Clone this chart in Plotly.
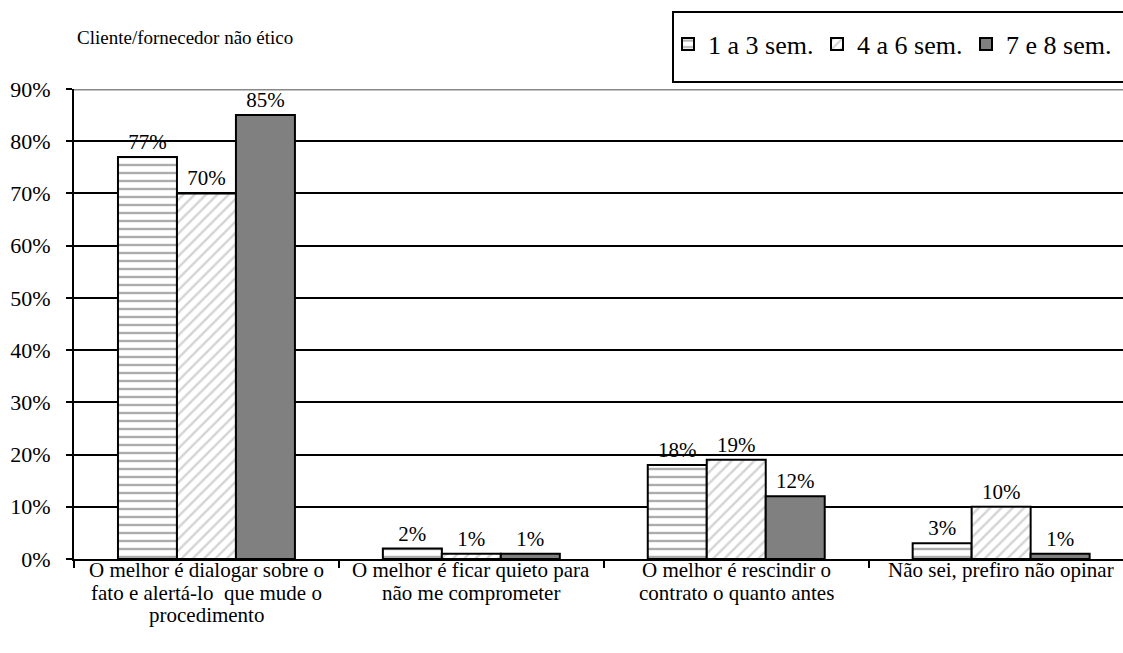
import plotly.graph_objects as go

# Category labels, one list of lines per category
category_lines = [
    ["O melhor é dialogar sobre o", "fato e alertá-lo  que mude o", "procedimento"],
    ["O melhor é ficar quieto para", "não me comprometer"],
    ["O melhor é rescindir o", "contrato o quanto antes"],
    ["Não sei, prefiro não opinar"],
]
categories = [" ".join(lines) for lines in category_lines]
series_names = ["1 a 3 sem.", "4 a 6 sem.", "7 e 8 sem."]
values_1a3 = [0.77, 0.02, 0.18, 0.03]
values_4a6 = [0.70, 0.01, 0.19, 0.10]
values_7e8 = [0.85, 0.01, 0.12, 0.01]
y_ticks = [0, 0.1, 0.2, 0.3, 0.4, 0.5, 0.6, 0.7, 0.8, 0.9]

FONT = "Liberation Serif"
W, H = 1123, 653
ML, MR, MT, MB = 74, 0, 89, 94
PW, PH = W - ML - MR, H - MT - MB


def px_to_paper_x(px):
    return (px - ML) / PW


def px_to_paper_y(py):
    return (H - MB - py) / PH


styles = [
    dict(pattern=dict(shape="-", fgcolor="#5a5a5a", bgcolor="white", size=8, solidity=0.3), color="white"),
    dict(pattern=dict(shape="/", fgcolor="#a8a8a8", bgcolor="white", size=8, solidity=0.3), color="white"),
    dict(pattern=None, color="#808080"),
]

fig = go.Figure()
for name, vals, st in zip(series_names, [values_1a3, values_4a6, values_7e8], styles):
    marker = dict(color=st["color"], line=dict(color="black", width=2))
    if st["pattern"]:
        marker["pattern"] = st["pattern"]
    fig.add_trace(go.Bar(
        x=categories, y=vals, name=name,
        text=[f"{round(v * 100)}%" for v in vals],
        textposition="outside", cliponaxis=False,
        textfont=dict(family=FONT, size=21, color="black"),
        marker=marker,
    ))

# multi-line category labels beneath the axis, tighter line spacing than tick labels
annotations = []
for cat, lines in zip(categories, category_lines):
    for i, line in enumerate(lines):
        annotations.append(dict(
            text=line, xref="x", yref="paper", x=cat, y=0,
            yanchor="middle", xanchor="center", yshift=-(11 + 22.5 * i),
            showarrow=False, font=dict(family=FONT, size=21, color="black"),
        ))

annotations.append(dict(
    text="Cliente/fornecedor não ético", xref="paper", yref="paper",
    x=px_to_paper_x(75), y=px_to_paper_y(37), xanchor="left", yanchor="middle",
    showarrow=False, font=dict(family=FONT, size=19, color="black"),
))

fig.update_layout(
    width=W, height=H,
    margin=dict(l=ML, r=MR, t=MT, b=MB, autoexpand=False),
    paper_bgcolor="white", plot_bgcolor="white",
    barmode="group", bargap=0.332, bargroupgap=0,
    font=dict(family=FONT, size=21, color="black"),
    showlegend=True,
    legend=dict(
        orientation="h", x=px_to_paper_x(668), xanchor="left",
        y=px_to_paper_y(44), yanchor="middle",
        borderwidth=0, bgcolor="rgba(0,0,0,0)",
        font=dict(family=FONT, size=26, color="black"),
        itemwidth=30, entrywidth=104, entrywidthmode="pixels",
    ),
    xaxis=dict(
        range=[-0.5, 3.46],
        showline=True, linecolor="black", linewidth=2,
        ticks="outside", tickson="boundaries", ticklen=7, tickcolor="black", tickwidth=2,
        showticklabels=False, showgrid=False,
    ),
    yaxis=dict(
        range=[0, 0.9], tickvals=y_ticks, tickformat=".0%",
        showline=True, linecolor="black", linewidth=2,
        ticks="outside", ticklen=6, tickcolor="black", tickwidth=2,
        ticklabelstandoff=11,
        showgrid=True, gridcolor="black", gridwidth=1.5,
        tickfont=dict(family=FONT, size=22, color="black"),
        zeroline=False,
    ),
    annotations=annotations,
    shapes=[
        dict(type="line", xref="paper", yref="y", x0=0, x1=1, y0=0.9, y1=0.9,
             line=dict(color="#888888", width=3), layer="above"),
        dict(type="rect", xref="paper", yref="paper",
             x0=px_to_paper_x(673), x1=px_to_paper_x(1135),
             y0=px_to_paper_y(82), y1=px_to_paper_y(12),
             line=dict(color="black", width=2), fillcolor="rgba(0,0,0,0)", layer="above"),
    ],
)

fig.write_html("out.html")
